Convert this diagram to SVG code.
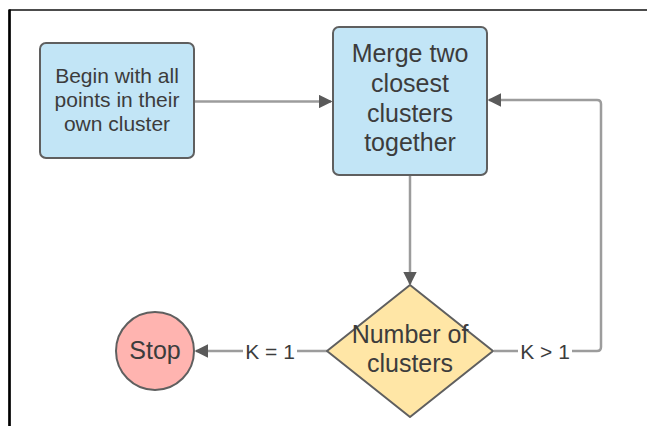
<svg xmlns="http://www.w3.org/2000/svg" width="647" height="426" viewBox="0 0 647 426">
  <style>
    .box { fill: #c2e5f6; stroke: #5f5f5f; stroke-width: 2; }
    .dec { fill: #ffe6a6; stroke: #5f5f5f; stroke-width: 2; }
    .term { fill: #ffb4b0; stroke: #5f5f5f; stroke-width: 2; }
    .lbl { font-family: "Liberation Sans", Arial, sans-serif; fill: #3c3c3c; text-anchor: middle; }
    .edge { fill: none; stroke: #9c9c9c; stroke-width: 2.5; stroke-linejoin: round; }
    .elbl { font-family: "Liberation Sans", Arial, sans-serif; font-size: 21px; fill: #3c3c3c; text-anchor: middle; }
  </style>
  <defs>
    <marker id="arrow" viewBox="0 0 10 10" refX="9" refY="5" markerWidth="5.5" markerHeight="5.5" markerUnits="strokeWidth" orient="auto">
      <path d="M0,0 L10,5 L0,10 Z" fill="#5a5a5a"/>
    </marker>
  </defs>

  <rect width="647" height="426" fill="#ffffff"/>
  <!-- frame -->
  <line x1="9" y1="10" x2="647" y2="10" stroke="#111" stroke-width="1.5"/>
  <line x1="9.5" y1="9.5" x2="9.5" y2="426" stroke="#000" stroke-width="2.7"/>

  <!-- connectors -->
  <g id="connectors">
    <path class="edge" d="M195,101.5 L331,101.5" marker-end="url(#arrow)"/>
    <path class="edge" d="M410,176 L410,284" marker-end="url(#arrow)"/>
    <path class="edge" d="M494,351 L597,351 Q601,351 601,347 L601,104 Q601,100 597,100 L489,100" marker-end="url(#arrow)"/>
    <path class="edge" d="M327,351 L196,351" marker-end="url(#arrow)"/>
    <rect x="243" y="339" width="54" height="24" fill="#ffffff"/>
    <text class="elbl" x="270" y="358.5">K = 1</text>
    <rect x="518" y="339" width="54" height="24" fill="#ffffff"/>
    <text class="elbl" x="545" y="358.5">K &gt; 1</text>
  </g>

  <g id="begin">
    <rect class="box" x="40" y="43" width="154" height="115" rx="6"/>
    <text class="lbl" font-size="21" x="117" y="83">Begin with all</text>
    <text class="lbl" font-size="21" x="117" y="107">points in their</text>
    <text class="lbl" font-size="21" x="117" y="131">own cluster</text>
  </g>

  <g id="merge">
    <rect class="box" x="333" y="27" width="154" height="148" rx="6"/>
    <text class="lbl" font-size="25" x="410" y="62">Merge two</text>
    <text class="lbl" font-size="25" x="410" y="92">closest</text>
    <text class="lbl" font-size="25" x="410" y="122">clusters</text>
    <text class="lbl" font-size="25" x="410" y="151">together</text>
  </g>

  <g id="decision">
    <path class="dec" d="M410,285 L493,351 L410,417 L327,351 Z" stroke-linejoin="round"/>
    <text class="lbl" font-size="25" x="410" y="343">Number of</text>
    <text class="lbl" font-size="25" x="410" y="372">clusters</text>
  </g>

  <g id="stop">
    <circle class="term" cx="155" cy="351" r="39"/>
    <text class="lbl" font-size="25" x="155" y="359">Stop</text>
  </g>
</svg>
